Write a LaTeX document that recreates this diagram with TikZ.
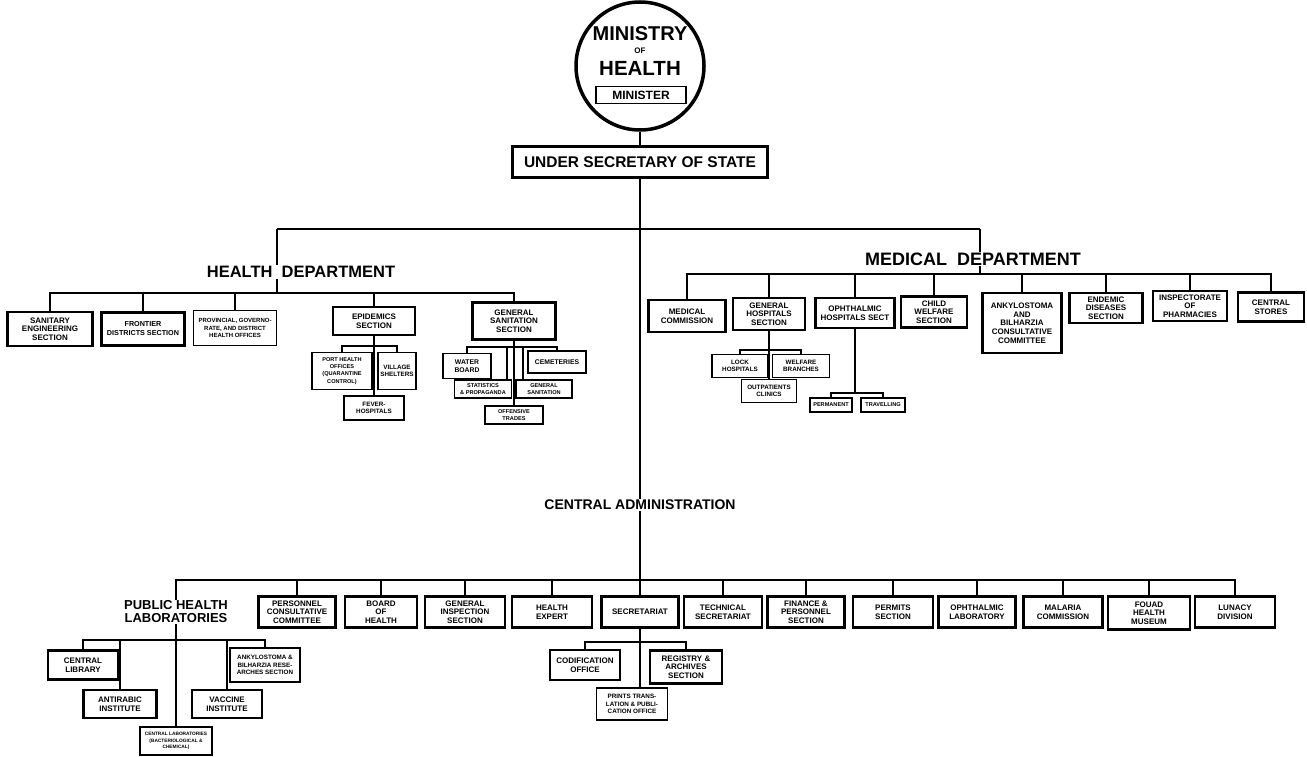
\documentclass[tikz,border=0pt]{standalone}
\usepackage{fontspec}
\setmainfont{Liberation Sans}
\usetikzlibrary{positioning,calc,backgrounds}
\newcommand{\fsz}[2]{\fontsize{#1}{#2}\selectfont}

\begin{document}
\begin{tikzpicture}[x=1pt,y=-1pt,
  box/.style={draw,line width=2.1pt,fill=white,align=center,inner sep=1pt,font=\bfseries\fsz{8}{8.7}},
  sbox/.style={box,line width=1.6pt,font=\bfseries\fsz{6.3}{7.2}},
  wh/.style 2 args={minimum width=#1pt,minimum height=#2pt},
  dept/.style={fill=white,inner sep=1pt,font=\bfseries\fsz{16.5}{18}},
  link/.style={line width=2pt}]
\useasboundingbox (0,0) rectangle (1307,757);
\node[circle,draw,line width=3.5pt,minimum size=128pt] (min) at (640,66) {};
\node[font=\bfseries\fsz{20}{20}] (mtitle) at (640,34) {MINISTRY};
\node[font=\bfseries\fsz{8}{8}] (mof) at (640,51) {OF};
\node[font=\bfseries\fsz{20.5}{21}] (mhealth) at (640,68) {HEALTH};
\node[box,line width=1.6pt,font=\bfseries\fsz{12}{12},wh={90}{17}] (minister) at (641,95) {MINISTER};
\node[box,font=\bfseries\fsz{15.5}{16},wh={255}{31}] (usec) at (640,162) {UNDER\ SECRETARY\ OF STATE};

\node[dept] (hdept) at (301,272) {HEALTH\ \ DEPARTMENT};
\node[dept,font=\bfseries\fsz{18}{20}] (mdept) at (973,259) {MEDICAL\ \ DEPARTMENT};
\node[dept,font=\bfseries\fsz{14}{15}] (cadm) at (640,505) {CENTRAL ADMINISTRATION};
\node[dept,font=\bfseries\fsz{13}{13},align=center] (phl) at (176,612) {PUBLIC HEALTH\\LABORATORIES};

\coordinate (jh) at (277,229);
\coordinate (jm) at (980,229);
\coordinate (hbus) at (277,293);
\coordinate (mbus) at (980,274);
\coordinate (cbus) at (640,580);

% health department
\node[box,wh={85}{34}] (saneng) at (50,329) {SANITARY\\ENGINEERING\\SECTION};
\node[box,font=\bfseries\fsz{7.2}{9},wh={83}{33}] (frontier) at (143,329) {FRONTIER\\DISTRICTS SECTION};
\node[sbox,font=\bfseries\fsz{6}{7.2},wh={83}{35}] (provinc) at (235,328) {PROVINCIAL, GOVERNO-\\RATE, AND DISTRICT\\HEALTH OFFICES};
\node[box,wh={82}{28}] (epid) at (374,321) {EPIDEMICS\\SECTION};
\node[box,wh={83}{37}] (gsan) at (514,321) {GENERAL\\SANITATION\\SECTION};
\node[sbox,font=\bfseries\fsz{5.6}{7.2},wh={60}{37}] (porth) at (342,371) {PORT HEALTH\\OFFICES\\(QUARANTINE\\CONTROL)};
\node[sbox,wh={38}{37}] (village) at (397,371) {VILLAGE\\SHELTERS};
\node[sbox,wh={60}{24}] (fever) at (374,408) {FEVER-\\HOSPITALS};
\node[sbox,font=\bfseries\fsz{6.8}{7.8},wh={48}{25}] (water) at (467,366) {WATER\\BOARD};
\node[sbox,font=\bfseries\fsz{6.8}{7.8},wh={58}{22}] (cemet) at (557,362) {CEMETERIES};
\node[sbox,font=\bfseries\fsz{5.6}{6.4},wh={57}{18}] (stats) at (483,389) {STATISTICS\\\& PROPAGANDA};
\node[sbox,font=\bfseries\fsz{5.6}{6.4},wh={56}{18}] (gensan) at (544,389) {GENERAL\\SANITATION};
\node[sbox,font=\bfseries\fsz{5.6}{6.4},wh={58}{18}] (offens) at (514,415) {OFFENSIVE\\TRADES};

% medical department
\node[box,wh={77}{32}] (medcom) at (687,316) {MEDICAL\\COMMISSION};
\node[box,wh={72}{32}] (genhosp) at (769,314) {GENERAL\\HOSPITALS\\SECTION};
\node[box,wh={79}{30}] (ophhosp) at (855,313) {OPHTHALMIC\\HOSPITALS SECT};
\node[box,wh={66}{31}] (childw) at (934,312) {CHILD\\WELFARE\\SECTION};
\node[box,wh={79}{60}] (ankylo) at (1022,323) {ANKYLOSTOMA\\AND\\BILHARZIA\\CONSULTATIVE\\COMMITTEE};
\node[box,wh={73}{30}] (endemic) at (1106,308) {ENDEMIC\\DISEASES\\SECTION};
\node[box,wh={74}{30}] (inspect) at (1190,306) {INSPECTORATE\\OF\\PHARMACIES};
\node[box,wh={66}{29}] (cstores) at (1271,307) {CENTRAL\\STORES};
\node[sbox,wh={56}{23}] (lock) at (740,366) {LOCK\\HOSPITALS};
\node[sbox,wh={57}{23}] (welfare) at (801,366) {WELFARE\\BRANCHES};
\node[sbox,wh={55}{23}] (outpat) at (769,391) {OUTPATIENTS\\CLINICS};
\node[sbox,font=\bfseries\fsz{5.6}{6.4},wh={42}{14}] (perman) at (831,405) {PERMANENT};
\node[sbox,font=\bfseries\fsz{5.6}{6.4},wh={44}{14}] (travel) at (883,405) {TRAVELLING};

% central administration
\node[box,wh={77}{31}] (perscc) at (297,612) {PERSONNEL\\CONSULTATIVE\\COMMITTEE};
\node[box,wh={72}{31}] (board) at (381,612) {BOARD\\OF\\HEALTH};
\node[box,wh={80}{31}] (geninsp) at (465,612) {GENERAL\\INSPECTION\\SECTION};
\node[box,wh={80}{31}] (hexpert) at (552,612) {HEALTH\\EXPERT};
\node[box,wh={77}{31}] (secr) at (640,612) {SECRETARIAT};
\node[box,wh={78}{31}] (techsec) at (723,612) {TECHNICAL\\SECRETARIAT};
\node[box,wh={77}{31}] (finance) at (806,612) {FINANCE \&\\PERSONNEL\\SECTION};
\node[box,wh={80}{31}] (permits) at (893,612) {PERMITS\\SECTION};
\node[box,wh={77}{31}] (ophlab) at (977,612) {OPHTHALMIC\\LABORATORY};
\node[box,wh={79}{31}] (malaria) at (1063,612) {MALARIA\\COMMISSION};
\node[box,wh={82}{33}] (fouad) at (1149,613) {FOUAD\\HEALTH\\MUSEUM};
\node[box,wh={80}{31}] (lunacy) at (1235,612) {LUNACY\\DIVISION};
\node[box,wh={70}{29}] (clib) at (83,665) {CENTRAL\\LIBRARY};
\node[box,wh={73}{28}] (antir) at (120,704) {ANTIRABIC\\INSTITUTE};
\node[sbox,font=\bfseries\fsz{4.8}{6.2},wh={72}{28}] (centlab) at (176,741) {CENTRAL LABORATORIES\\(BACTERIOLOGICAL \&\\CHEMICAL)};
\node[box,wh={70}{28}] (vaccine) at (227,704) {VACCINE\\INSTITUTE};
\node[sbox,wh={70}{34}] (ankres) at (265,665) {ANKYLOSTOMA \&\\BILHARZIA RESE-\\ARCHES SECTION};
\node[box,wh={70}{30}] (codif) at (585,665) {CODIFICATION\\OFFICE};
\node[box,wh={72}{33}] (registry) at (686,667) {REGISTRY \&\\ARCHIVES\\SECTION};
\node[sbox,wh={71}{32}] (prints) at (632,704) {PRINTS TRANS-\\LATION \& PUBLI-\\CATION OFFICE};

\coordinate (ebus) at (374,346);
\coordinate (gbus) at (514,347);
\coordinate (ghbus) at (769,350);
\coordinate (obus) at (855,393);
\coordinate (pbus) at (176,640);
\coordinate (sbus) at (640,642);

\begin{pgfonlayer}{background}
\draw[link] (min) -- (usec);
\draw[link] (usec) -- (secr);
\draw[link] (jh) -- (jm);
\draw[link] (jh) -- (hbus);
\draw[link] (jm) -- (mbus);
\draw[link] (saneng.north) |- (gsan.north |- hbus) -- (gsan.north);
\draw[link] (frontier.north) -- (frontier.north |- hbus);
\draw[link] (provinc.north) -- (provinc.north |- hbus);
\draw[link] (epid.north) -- (epid.north |- hbus);
\draw[link] (epid) -- (fever);
\draw[link] (porth.north) |- (ebus) -| (village.north);
\draw[link] (gsan) -- (offens);
\draw[link] (water.north) |- (gbus) -| (cemet.north);
\draw[link] ([xshift=24pt]stats.north) -- ([xshift=24pt]stats.north |- gbus);
\draw[link] ([xshift=-21pt]gensan.north) -- ([xshift=-21pt]gensan.north |- gbus);
\draw[link] (medcom.north) |- (cstores.north |- mbus) -- (cstores.north);
\draw[link] (genhosp.north) -- (genhosp.north |- mbus);
\draw[link] (ophhosp.north) -- (ophhosp.north |- mbus);
\draw[link] (childw.north) -- (childw.north |- mbus);
\draw[link] (ankylo.north) -- (ankylo.north |- mbus);
\draw[link] (endemic.north) -- (endemic.north |- mbus);
\draw[link] (inspect.north) -- (inspect.north |- mbus);
\draw[link] (genhosp) -- (outpat);
\draw[link] (lock.north) |- (ghbus) -| (welfare.north);
\draw[link] (ophhosp.south) -- (ophhosp.south |- obus);
\draw[link] (perman.north) |- (obus) -| (travel.north);
\draw[link] (phl.north) |- (lunacy.north |- cbus) -- (lunacy.north);
\draw[link] (perscc.north) -- (perscc.north |- cbus);
\draw[link] (board.north) -- (board.north |- cbus);
\draw[link] (geninsp.north) -- (geninsp.north |- cbus);
\draw[link] (hexpert.north) -- (hexpert.north |- cbus);
\draw[link] (techsec.north) -- (techsec.north |- cbus);
\draw[link] (finance.north) -- (finance.north |- cbus);
\draw[link] (permits.north) -- (permits.north |- cbus);
\draw[link] (ophlab.north) -- (ophlab.north |- cbus);
\draw[link] (malaria.north) -- (malaria.north |- cbus);
\draw[link] (fouad.north) -- (fouad.north |- cbus);
\draw[link] (phl) -- (centlab);
\draw[link] (clib.north) |- (pbus) -| (ankres.north);
\draw[link] (antir.north) -- (antir.north |- pbus);
\draw[link] (vaccine.north) -- (vaccine.north |- pbus);
\draw[link] (secr.south) -- (secr.south |- prints.north);
\draw[link] (codif.north) |- (sbus) -| (registry.north);
\end{pgfonlayer}
\end{tikzpicture}
\end{document}
